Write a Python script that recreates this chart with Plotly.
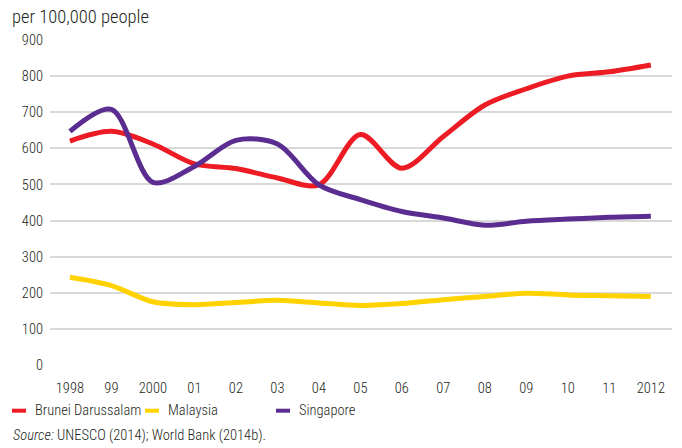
import plotly.graph_objects as go

# ── Data ─────────────────────────────────────────
years = list(range(1998, 2013))
year_labels = ["1998", "99", "2000", "01", "02", "03", "04", "05",
               "06", "07", "08", "09", "10", "11", "2012"]

brunei = [620, 647, 612, 557, 544, 518, 499, 638, 545, 633, 720, 765, 800, 812, 831]
malaysia = [243, 220, 175, 167, 173, 179, 172, 165, 170, 181, 190, 199, 194, 192, 190]
singapore = [647, 708, 506, 550, 622, 612, 499, 458, 425, 407, 387, 398, 404, 409, 412]

series_names = ["Brunei Darussalam", "Malaysia", "Singapore"]
series_colors = ["#ED1C24", "#FFD200", "#5B2D90"]

FONT = "Roboto Condensed, Liberation Sans Narrow, Arial"
TXT = "#231F20"


def px_to_paper(px, py):
    # plot area: x 50..672, y 40.3..365.3 (pixels)
    return (px - 50) / 622, (365.3 - py) / 325


fig = go.Figure()
for name, vals, col in zip(series_names, [brunei, malaysia, singapore], series_colors):
    fig.add_trace(go.Scatter(
        x=years, y=vals, name=name, mode="lines",
        line=dict(color=col, width=5, shape="spline", smoothing=0.9),
        showlegend=False,
    ))

# ── Manual legend (short line + label) ───────────
legend_x = [12, 145, 276]
for name, col, lx in zip(series_names, series_colors, legend_x):
    x0, ly = px_to_paper(lx, 411)
    x1, _ = px_to_paper(lx + 14, 411)
    xt, _ = px_to_paper(lx + 21, 411)
    fig.add_shape(type="line", xref="paper", yref="paper",
                  x0=x0, x1=x1, y0=ly, y1=ly, line=dict(color=col, width=4))
    fig.add_annotation(xref="paper", yref="paper", x=xt, y=ly,
                       text=name, showarrow=False, xanchor="left", yanchor="middle",
                       font=dict(family=FONT, size=14.5, color=TXT, weight=300))

sx, sy = px_to_paper(11, 436)
fig.add_annotation(xref="paper", yref="paper", x=sx, y=sy,
                   text="<i>Source:</i> UNESCO (2014); World Bank (2014b).",
                   showarrow=False, xanchor="left", yanchor="middle",
                   font=dict(family=FONT, size=14.5, color=TXT, weight=300))

hx, hy = px_to_paper(10, 17)
fig.add_annotation(xref="paper", yref="paper", x=hx, y=hy,
                   text="per 100,000 people",
                   showarrow=False, xanchor="left", yanchor="middle",
                   font=dict(family=FONT, size=18.5, color=TXT, weight=300))

fig.update_layout(
    width=682, height=448,
    paper_bgcolor="white", plot_bgcolor="white",
    margin=dict(l=50, r=10, t=40, b=83),
    font=dict(family=FONT, size=14.5, color=TXT, weight=300),
    xaxis=dict(
        range=[1997.52, 2012.51],
        tickvals=years, ticktext=year_labels,
        showgrid=False, zeroline=False, showline=False,
        ticks="", ticklabelstandoff=12,
    ),
    yaxis=dict(
        range=[0, 900], tickvals=list(range(0, 901, 100)),
        showgrid=True, gridcolor="#D9D9D9", gridwidth=1.5,
        zeroline=False, showline=False, ticks="", ticklabelstandoff=6,
    ),
)

fig.write_html("out.html", config={"displayModeBar": False},
               post_script="document.body.style.margin='0';")
